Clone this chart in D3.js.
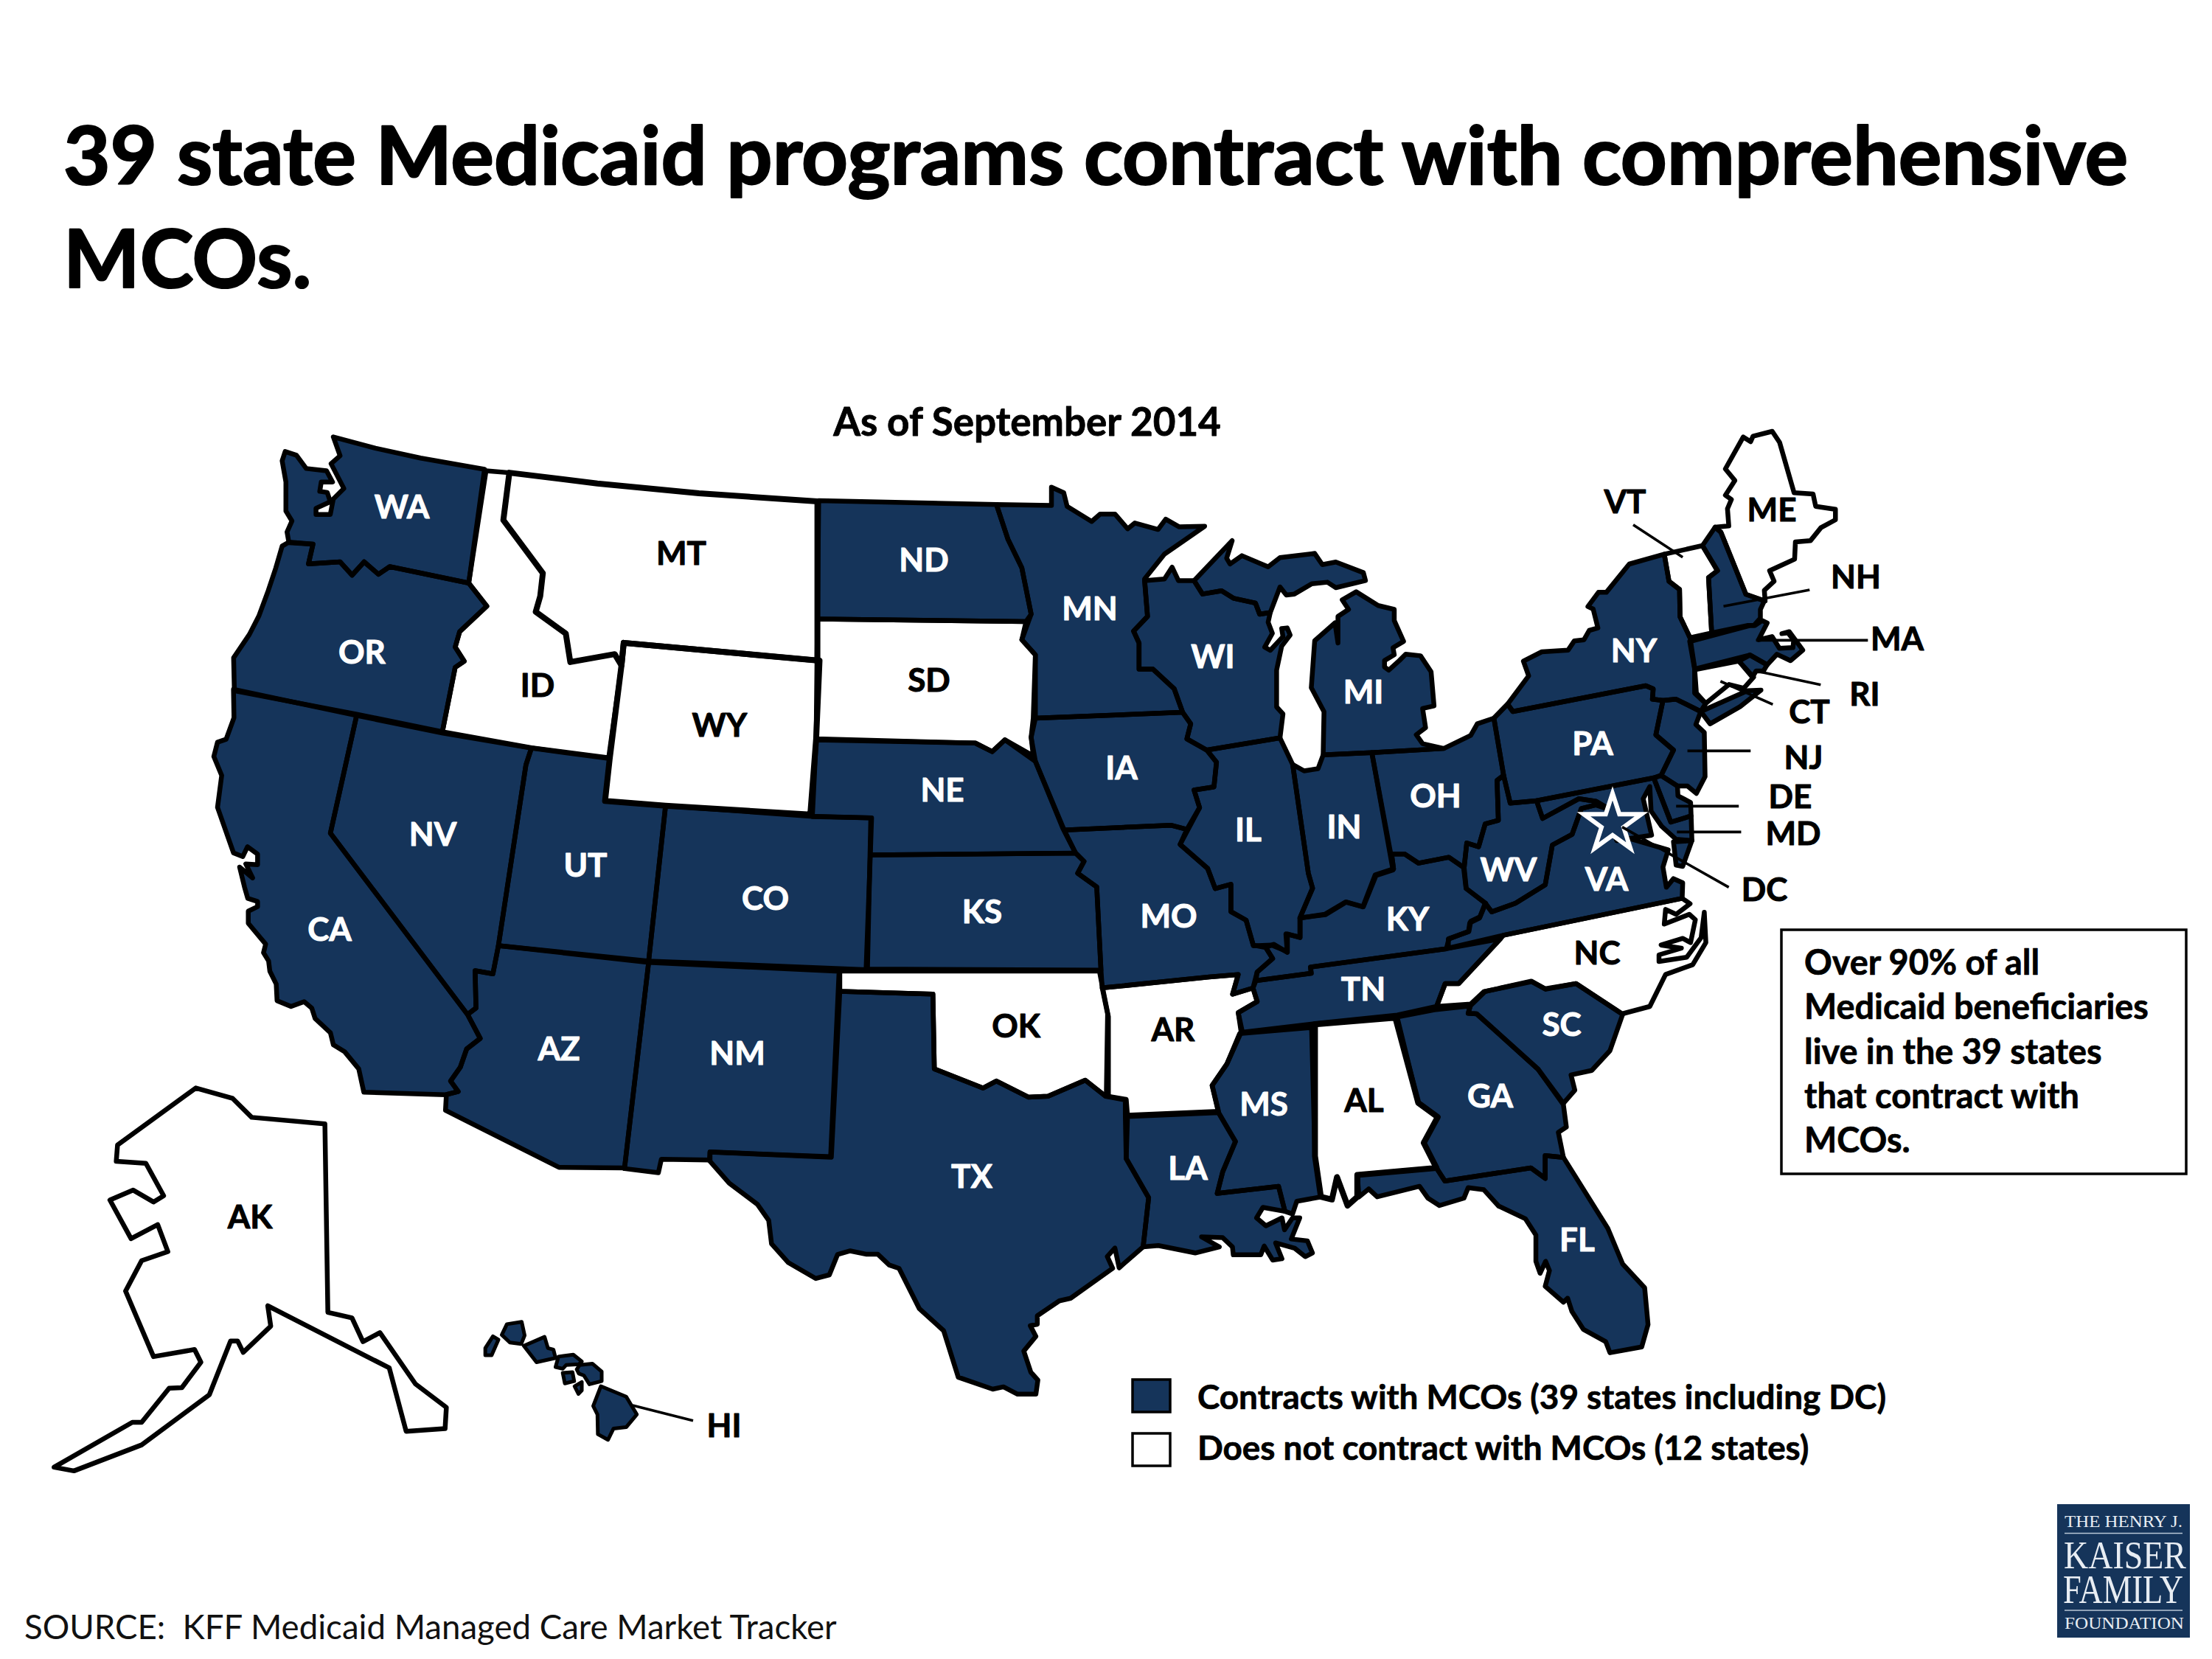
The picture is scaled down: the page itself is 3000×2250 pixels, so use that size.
<!DOCTYPE html>
<html><head><meta charset="utf-8">
<script src="https://cdn.jsdelivr.net/npm/d3@7/dist/d3.min.js"></script>
<style>html,body{margin:0;padding:0;background:#fff}svg{display:block}text{font-family:Lato,"Open Sans",sans-serif}</style>
</head><body><svg id="chart" width="3000" height="2250" viewBox="0 0 3000 2250"></svg>
<script>
const NAVY="#15345a";
const sheet=(x0,y0,w,h,dw,dh)=>{const sx=d3.scaleLinear().domain([0,dw]).range([x0,x0+w]),sy=d3.scaleLinear().domain([0,dh]).range([y0,y0+h]);return pts=>pts.map(p=>[sx(p[0]),sy(p[1])]);};
const z1=sheet(300,560,800,600,1568,1568),z2=sheet(300,940,900,680,1568,1568),z3=sheet(1100,640,900,680,1568,1568),
z4=sheet(1950,570,560,420,1568,1260),z5=sheet(1950,960,560,420,1568,1260),z6=sheet(1400,1300,900,560,1568,1568),
z7=sheet(40,1440,900,600,1568,1568),z9=sheet(270,930,300,300,900,900),z10=sheet(940,1310,600,600,1568,1568),
z11=sheet(1640,1130,420,420,1260,1260),z12=sheet(2250,830,240,240,720,720);

const WA=z1([[298,85],[410,125],[530,160],[700,200],[658,603],[448,545],[418,572],[380,528],[348,575],[316,528],[232,535],[244,465],[180,460],[175,422],[188,383],[172,348],[172,245],[162,170],[170,137],[200,150],[226,197],[280,205],[296,245],[266,245],[262,278],[282,282],[290,315],[252,338],[252,360],[290,360],[298,305],[326,268],[292,180],[316,152]]);
const OR=z1([[162,472],[180,458],[244,465],[232,535],[316,528],[348,575],[380,528],[418,572],[448,545],[658,603],[706,685],[634,775],[622,830],[646,880],[622,902],[588,1130],[360,1068],[35,985],[33,868],[75,785],[100,720],[125,630],[145,550]]);
const ID=z1([[704,205],[766,212],[750,380],[855,568],[848,650],[836,705],[916,782],[928,883],[1046,855],[1064,895],[1030,1222],[825,1187],[588,1130],[622,902],[646,880],[622,830],[634,775],[706,685],[658,603]]);
const MT=[...z1([[766,212],[1000,250],[1270,285]]),...z3([[15,92],[15,590]]),...z1([[1070,815],[1064,895],[1046,855],[928,883],[916,782],[836,705],[848,650],[855,568],[750,380]])];
const WY=[...z1([[1070,815]]),...z3([[20,590],[12,835]]),...z2([[1392,380],[1050,352],[907,337],[918,205]]),...z1([[1064,895]])];
const UT=z2([[733,172],[918,205],[907,337],[1050,352],[1010,838],[655,790],[720,225]]);
const NV=z2([[320,70],[524,125],[733,172],[720,225],[655,790],[642,878],[600,868],[602,985],[582,1005],[258,438]]);
const CA=[...z9([[140,15]]),...z2([[320,70],[258,438],[582,1005],[612,1080],[580,1113],[565,1170],[542,1213],[560,1246],[530,1256],[337,1248],[325,1175],[292,1122],[265,1100],[258,1062],[222,1018],[214,985],[196,965],[165,980],[132,962],[130,910],[115,870],[112,838],[100,812],[105,785],[64,720],[64,682],[86,668]]),...z9([[238,878],[198,865],[185,820],[165,738],[218,782],[190,725],[238,728],[238,685],[197,655],[178,695],[140,680],[75,495],[92,365],[60,288],[75,230],[110,218],[142,130]])];
const AZ=z2([[655,790],[1010,842],[953,1485],[798,1483],[530,1305],[532,1256],[560,1246],[542,1213],[565,1170],[580,1113],[612,1080],[582,1005],[602,985],[600,868],[642,878]]);
const NM=z2([[1010,842],[1460,870],[1440,1450],[1155,1435],[1155,1460],[1040,1458],[1033,1500],[953,1487]]);
const CO=z2([[1050,352],[1392,385],[1535,390],[1527,865],[1010,838]]);
const TX=[...z10([[520,90],[850,100],[855,365],[1028,433],[1075,408],[1188,465],[1258,462],[1390,405],[1462,462],[1532,475],[1532,530]]),...z6([[222,760],[275,908],[262,1095]]),...z10([[1510,1070],[1495,1000],[1468,1030],[1487,1072],[1338,1178],[1298,1187],[1220,1240],[1220,1270],[1195,1275],[1215,1313],[1172,1365],[1197,1440],[1222,1468],[1215,1518],[1150,1518],[1100,1492],[1062,1500],[940,1458],[888,1293],[802,1215],[730,1072],[695,1060],[655,1022],[615,1022],[557,1010],[512,1023],[483,1095],[435,1108],[338,1052],[278,985],[268,902],[228,845],[128,770],[58,690],[60,660],[490,678]])];
const OK=z10([[520,18],[1440,18],[1450,70],[1472,180],[1472,462],[1462,462],[1390,405],[1258,462],[1188,465],[1075,408],[1028,433],[855,365],[850,100],[520,90]]);
const KS=z3([[140,1198],[625,1192],[645,1218],[630,1255],[675,1298],[685,1558],[130,1555]]);
const NE=z3([[12,838],[388,848],[428,875],[458,838],[530,905],[595,1115],[625,1192],[140,1198],[143,1082],[3,1078]]);
const ND=z3([[18,90],[438,102],[465,210],[498,300],[520,445],[508,468],[15,460]]);
const SD=z3([[15,460],[508,468],[498,525],[530,572],[525,770],[520,830],[525,888],[458,838],[428,875],[388,848],[12,835]]);
const MN=z3([[438,102],[568,105],[568,48],[597,65],[605,108],[663,155],[683,132],[718,132],[748,178],[765,160],[820,180],[838,148],[870,172],[930,170],[835,257],[788,335],[795,452],[762,498],[775,535],[775,617],[808,617],[858,678],[878,752],[530,770],[530,572],[498,525],[520,445],[498,300],[465,210]]);
const IA=z3([[530,770],[878,752],[897,788],[888,835],[935,870],[958,908],[952,985],[905,995],[918,1050],[888,1118],[850,1105],[598,1120],[530,905],[520,830]]);
const MO=[...z3([[598,1120],[850,1105],[888,1118],[872,1165],[937,1240],[955,1303],[992,1290],[992,1375],[1028,1402],[1045,1480]]),...z11([[230,465],[258,510],[195,565],[178,630],[95,655],[118,575],[0,585]]),...z10([[1450,78]]),...z3([[685,1558],[675,1298],[630,1255],[645,1218],[625,1192]])];
const AR=[...z10([[1450,78]]),...z11([[0,585],[118,575],[95,655],[178,630],[195,685],[118,730],[130,810]]),...z6([[460,400],[425,482],[440,580],[225,595],[222,535],[175,522],[178,210]])];
const LA=z6([[225,600],[440,585],[480,695],[450,810],[437,892],[582,865],[597,960],[545,945],[530,985],[552,1015],[590,985],[596,1030],[615,985],[632,985],[612,1065],[650,1072],[662,1118],[645,1132],[620,1100],[575,1080],[590,1140],[568,1145],[548,1092],[540,1125],[475,1125],[473,1095],[450,1060],[400,1057],[442,1095],[385,1118],[298,1090],[262,1095],[275,908],[222,760]]);
const MS=z6([[490,285],[660,262],[668,750],[682,905],[625,922],[615,970],[597,960],[582,865],[437,892],[450,810],[480,695],[440,585],[425,482],[460,400]]);
const AL=z6([[668,250],[858,225],[912,548],[958,602],[925,700],[955,795],[768,822],[768,905],[745,938],[720,830],[708,915],[682,905],[668,750]]);
const GA=z6([[862,222],[950,195],[1035,180],[1030,208],[1050,210],[1195,420],[1255,555],[1262,640],[1243,660],[1255,755],[1212,748],[1212,835],[1178,795],[975,845],[955,795],[925,700],[958,602],[912,548]]);
const SC=z6([[1035,180],[1070,125],[1180,88],[1212,115],[1285,95],[1395,212],[1365,350],[1322,425],[1273,442],[1282,500],[1255,550],[1195,420],[1050,210],[1030,208]]);
const FL=z6([[768,822],[955,795],[975,845],[1178,795],[1212,835],[1212,748],[1255,755],[1360,1025],[1395,1160],[1447,1250],[1455,1390],[1440,1475],[1365,1497],[1355,1455],[1302,1408],[1275,1340],[1265,1290],[1255,1305],[1212,1245],[1222,1185],[1213,1150],[1200,1195],[1190,1150],[1190,1050],[1165,988],[1102,940],[1067,878],[1030,870],[1020,910],[962,938],[935,910],[915,865],[815,905],[795,875],[772,905]]);
const TN=z11([[190,600],[415,570],[412,545],[965,470],[1185,430],[1015,612],[960,612],[925,705],[765,740],[430,775],[135,810],[118,730],[195,685],[178,630]]);
const KY=z11([[370,345],[470,330],[555,280],[625,300],[675,170],[750,145],[742,85],[795,85],[852,122],[975,98],[1035,140],[1045,225],[1125,285],[1100,345],[1060,365],[1055,400],[975,430],[965,470],[412,545],[415,570],[190,600],[195,565],[258,510],[230,465],[262,452],[318,485],[318,410],[370,425]]);
const IL=z3([[935,870],[1108,832],[1138,915],[1175,1255],[1185,1302],[1155,1395],[1155,1455],[1122,1445],[1125,1500],[1088,1480],[1045,1482],[1028,1402],[992,1375],[992,1290],[955,1303],[937,1240],[872,1165],[918,1050],[905,995],[952,985],[958,908]]);
const IN=z3([[1138,915],[1165,935],[1198,928],[1210,885],[1325,878],[1375,1245],[1335,1262],[1305,1360],[1265,1345],[1215,1385],[1155,1395],[1185,1302],[1175,1255]]);
const OH=[...z3([[1325,878],[1495,865]]),...z5([[125,112],[150,65],[213,42],[250,275],[225,295],[230,458],[180,472],[155,565],[110,550],[100,650]]),...z11([[975,98],[852,122],[795,85],[742,85],[750,145]])];
const MI_LOWER=z3([[1210,885],[1212,750],[1182,675],[1190,528],[1238,472],[1245,535],[1245,452],[1270,430],[1255,400],[1288,375],[1340,418],[1378,430],[1378,465],[1400,530],[1375,550],[1378,572],[1355,590],[1355,610],[1365,620],[1390,590],[1405,570],[1440,575],[1465,625],[1472,732],[1445,740],[1452,800],[1430,822],[1445,850],[1495,865],[1325,878]]);
const MI_UPPER=z3([[905,340],[995,215],[982,270],[990,288],[1018,262],[1080,297],[1108,268],[1190,255],[1208,290],[1240,282],[1305,315],[1310,340],[1240,362],[1220,345],[1183,350],[1142,382],[1123,385],[1108,360],[1085,440],[1060,445],[1050,410],[998,395],[970,372],[925,382]]);
const WI=z3([[788,340],[835,335],[853,298],[868,340],[905,340],[925,382],[970,372],[998,395],[1050,410],[1060,445],[1085,440],[1080,470],[1090,505],[1072,548],[1085,558],[1115,515],[1112,490],[1125,488],[1132,510],[1112,545],[1100,620],[1100,735],[1115,757],[1108,832],[935,870],[888,835],[897,788],[878,752],[858,678],[808,617],[775,617],[775,535],[762,498],[795,452]]);
const PA=[...z5([[213,42]]),...z4([[265,1155],[285,1185],[790,1080],[818,1093],[815,1135],[855,1140]]),...z5([[828,110],[895,172],[848,275],[820,285],[375,378],[275,388],[250,275]])];
const NY=[...z4([[215,1210],[265,1155],[345,1040],[325,980],[395,942],[495,935],[518,898],[555,893],[575,855],[608,845],[590,768],[570,758],[610,700],[640,700],[727,585],[860,545],[878,655],[918,688],[920,800],[958,885],[975,1005],[982,1110]]),...z12([[190,372],[170,405],[360,320],[415,318],[330,385],[208,455],[170,405]]),...z4([[905,1135],[855,1140],[815,1135],[818,1093],[790,1080],[285,1185],[265,1155]])];
const CT=z12([[145,235],[325,200],[385,265],[345,310],[285,295],[190,372],[145,330]]);
const RI=z12([[325,200],[370,175],[440,215],[425,240],[395,240],[380,265]]);
const MA=z12([[125,120],[370,55],[390,55],[420,35],[440,45],[405,113],[460,100],[490,148],[545,145],[548,115],[525,85],[500,88],[530,80],[585,155],[535,198],[480,172],[440,215],[370,175],[145,232]]);
const NJ=[...z4([[855,1140],[905,1135]]),...z12([[170,405]]),...z5([[980,68],[1012,100],[1015,280],[982,348],[948,318],[910,318],[848,275],[895,172],[828,110]])];
const DE=z5([[820,285],[848,275],[910,318],[912,358],[960,385],[962,440],[885,465]]);
const MD=z5([[375,378],[820,285],[885,465],[962,440],[965,540],[905,535],[850,482],[810,420],[805,320],[780,370],[812,518],[680,540],[640,405],[600,380],[535,370],[398,450]]);
const WV=z5([[250,275],[275,388],[375,378],[398,450],[535,370],[600,380],[640,405],[600,395],[545,410],[510,515],[435,558],[408,720],[295,795],[205,830],[180,795],[108,735],[100,650],[110,550],[155,565],[180,472],[230,458],[225,295]]);
const VA_MAIN=z5([[205,830],[295,795],[408,720],[435,558],[510,515],[545,410],[600,395],[640,410],[680,540],[730,532],[875,578],[855,648],[868,730],[895,695],[930,712],[928,775],[250,925],[40,978],[40,940],[118,910],[125,868],[160,850],[180,795]]);
const VA_SHORE=z5([[895,545],[965,540],[930,645],[905,640]]);
const NH=z4([[1005,510],[1053,435],[1075,455],[1170,708],[1240,735],[1225,770],[1225,805],[1200,835],[1175,835],[1040,865],[1028,640],[1062,612]]);
const VT=z4([[860,545],[1005,510],[1062,612],[1028,640],[1040,865],[958,885],[920,800],[918,688],[878,655]]);
const ME=z4([[1053,435],[1105,430],[1100,360],[1115,322],[1092,305],[1128,245],[1092,198],[1160,68],[1188,87],[1197,65],[1270,45],[1298,90],[1353,295],[1425,300],[1435,350],[1510,362],[1510,405],[1455,437],[1415,490],[1358,495],[1355,565],[1260,612],[1277,655],[1240,692],[1243,735],[1170,708],[1075,455]]);
const NC=[...z5([[250,925],[928,775],[958,797],[905,840],[865,820],[860,880],[955,840],[978,862],[960,955],[930,938],[848,965],[925,978],[840,1005],[840,1032],[945,1015],[1000,935],[1012,832],[1018,955],[968,1045],[865,1085],[805,1215],[700,1245],[525,1122],[410,1145],[355,1112],[175,1155],[125,1205]]),...z11([[925,705],[960,612],[1015,612]])];
const AK=z7([[393,93],[480,130],[525,197],[698,220],[705,888],[762,908],[788,992],[828,960],[912,1142],[985,1225],[982,1300],[890,1310],[850,1085],[563,865],[570,937],[505,1030],[492,990],[475,990],[425,1180],[265,1358],[105,1450],[58,1437],[243,1278],[265,1278],[330,1157],[360,1155],[405,1065],[390,1020],[293,1045],[227,813],[265,705],[327,673],[303,577],[240,627],[190,490],[245,455],[293,497],[317,475],[275,360],[205,353],[208,295]]);
const HI_ISLANDS=[
 z7([[1095,973],[1108,985],[1092,1040],[1077,1040],[1077,1015]]),
 z7([[1128,930],[1163,922],[1170,970],[1162,1000],[1135,995],[1116,968]]),
 z7([[1168,1007],[1217,975],[1225,1015],[1238,1020],[1243,1050],[1198,1065]]),
 z7([[1250,1045],[1285,1038],[1305,1062],[1298,1072],[1268,1075],[1260,1088],[1243,1082]]),
 z7([[1300,1075],[1330,1070],[1352,1098],[1352,1132],[1323,1143],[1310,1112],[1298,1105],[1293,1090]]),
 z7([[1260,1103],[1283,1100],[1287,1132],[1265,1140]]),
 z7([[1288,1150],[1305,1135],[1305,1165],[1297,1177]]),
 z7([[1350,1150],[1410,1187],[1435,1250],[1410,1295],[1380,1300],[1367,1340],[1343,1320],[1342,1250],[1332,1220]])];

const noContract=[["MT",MT],["ID",ID],["WY",WY],["SD",SD],["OK",OK],["AR",AR],["AL",AL],["NC",NC],["VT",VT],["ME",ME],["CT",CT],["AK",AK]];
const contract=[["WA",WA],["OR",OR],["CA",CA],["NV",NV],["UT",UT],["AZ",AZ],["CO",CO],["NM",NM],["ND",ND],["NE",NE],["KS",KS],["TX",TX],["MN",MN],["IA",IA],["MO",MO],["LA",LA],["WI",WI],["IL",IL],["MS",MS],["MI",MI_LOWER,MI_UPPER],["IN",IN],["KY",KY],["TN",TN],["OH",OH],["GA",GA],["FL",FL],["SC",SC],["WV",WV],["VA",VA_MAIN,VA_SHORE],["PA",PA],["NY",NY],["NJ",NJ],["DE",DE],["MD",MD],["NH",NH],["MA",MA],["RI",RI],["HI",...HI_ISLANDS]];

const labelNames=["WA","OR","MT","ID","WY","NV","UT","CO","CA","AZ","NM","ND","SD","NE","KS","IA","MO","MN","WI","IL","IN","MI","OH","KY","TN","MS","AL","GA","SC","FL","LA","AR","OK","TX","NY","PA","WV","VA","NC","AK","VT","ME","NH","MA","RI","CT","NJ","DE","MD","DC","HI"];
const labelX=[545,491,924,729,976,587,794,1038,447,758,1000,1253,1260,1278,1332,1521,1585,1478,1645,1693,1823,1849,1947,1909,1849,1714,1850,2021,2118,2139,1611,1591,1378,1318,2216,2160,2046,2179,2166,339,2204,2403,2517,2573,2529,2454,2446,2428,2432,2393,982];
const labelY=[703,900,766,945,999,1147,1189,1234,1276,1438,1444,775,938,1087,1252,1057,1258,841,906,1141,1137,954,1095,1262,1357,1513,1508,1502,1405,1697,1600,1412,1407,1611,898,1024,1195,1208,1308,1666,696,707,798,882,957,981,1043,1096,1146,1222,1949];
const whiteLabels=["WA","OR","NV","UT","CO","CA","AZ","NM","ND","NE","KS","IA","MO","MN","WI","IL","IN","MI","OH","KY","TN","MS","GA","SC","FL","LA","TX","NY","PA","WV","VA"];

const leaders=[z4([[742,425],[930,557]]),z4([[1085,757],[1412,690]]),z12([[395,115],[850,115]]),z12([[395,240],[658,296]]),z12([[250,282],[463,376]]),z5([[948,175],[1188,175]]),z5([[905,400],[1143,400]]),z5([[908,505],[1152,505]]),z5([[700,485],[1105,730]]),z7([[1425,1218],[1568,1272]])];

const titleLines=["39 state Medicaid programs contract with comprehensive","MCOs."];
const subtitle="As of September 2014";
const noteLines=["Over 90% of all","Medicaid beneficiaries","live in the 39 states","that contract with","MCOs."];
const legendLabels=["Contracts with MCOs (39 states including DC)","Does not contract with MCOs (12 states)"];
const source="SOURCE:  KFF Medicaid Managed Care Market Tracker";
const logoLines=["THE HENRY J.","KAISER","FAMILY","FOUNDATION"];

const svg=d3.select("#chart");
const path=d3.geoPath(d3.geoIdentity());
const feat=(row,fill)=>({type:"Feature",properties:{name:row[0],fill},geometry:{type:"MultiPolygon",coordinates:row.slice(1).map(r=>[[...r,r[0]]])}});
const features=[...noContract.map(r=>feat(r,"#fff")),...contract.map(r=>feat(r,NAVY))];
const heavyBorders=["MT","WY","AL"];

svg.append("rect").attr("width",3000).attr("height",2250).attr("fill","#fff");
svg.append("g").selectAll("path").data(features).join("path").attr("d",path).attr("fill",d=>d.properties.fill);
svg.append("g").selectAll("path").data(features).join("path").attr("d",path).attr("fill","none").attr("stroke","#000").attr("stroke-linejoin","round")
  .attr("stroke-width",d=>d.properties.name==="HI"?5:heavyBorders.includes(d.properties.name)?8:6.5);

// DC star
svg.append("path").attr("d",d3.symbol(d3.symbolStar).size(1900)()).attr("transform","translate(2187,1117)").attr("fill",NAVY).attr("stroke","#fff").attr("stroke-width",6);

const line=d3.line();
svg.append("g").selectAll("path").data(leaders).join("path").attr("d",line).attr("stroke","#000").attr("stroke-width",3.6).attr("fill","none");

const bold=(sel,w)=>sel.attr("font-weight",700).attr("stroke-width",w).attr("paint-order","stroke").attr("stroke-linejoin","round");

bold(svg.append("g").selectAll("text").data(labelNames).join("text").text(d=>d)
 .attr("x",(d,i)=>labelX[i]).attr("y",(d,i)=>labelY[i]).attr("text-anchor","middle")
 .attr("font-size",44).attr("fill",d=>whiteLabels.includes(d)?"#fff":"#000").attr("stroke",d=>whiteLabels.includes(d)?"#fff":"#000"),1);

bold(svg.append("g").selectAll("text").data(titleLines).join("text").text(d=>d).attr("x",86).attr("y",(d,i)=>250+i*140)
 .attr("font-size",109.7).attr("fill","#000").attr("stroke","#000"),2.2);
bold(svg.append("text").text(subtitle).attr("x",1393).attr("y",591).attr("text-anchor","middle").attr("font-size",53).attr("stroke","#000"),.8);

svg.append("rect").attr("x",2416).attr("y",1261).attr("width",549).attr("height",331).attr("fill","#fff").attr("stroke","#000").attr("stroke-width",3.5);
bold(svg.append("g").selectAll("text").data(noteLines).join("text").text(d=>d).attr("x",2447).attr("y",(d,i)=>1322+i*60.3)
 .attr("font-size",46.8).attr("stroke","#000"),.7);

const legendFill=[NAVY,"#fff"],legendY=[1871,1944];
const lg=svg.append("g");
lg.selectAll("rect").data(legendFill).join("rect").attr("x",1536).attr("y",(d,i)=>legendY[i]).attr("width",51).attr("height",44).attr("fill",d=>d).attr("stroke","#000").attr("stroke-width",3.5);
bold(lg.selectAll("text").data(legendLabels).join("text").text(d=>d).attr("x",1624).attr("y",(d,i)=>legendY[i]+(i?36:40)).attr("font-size",45.8).attr("stroke","#000"),.7);

svg.append("text").text(source).attr("x",33).attr("y",2223).attr("font-size",45.6).attr("fill","#111").attr("xml:space","preserve").style("white-space","pre");

// Logo
const logo=svg.append("g");
logo.append("rect").attr("x",2790).attr("y",2040).attr("width",180).attr("height",181).attr("fill",NAVY);
const logoY=[2071,2127,2174,2209],logoS=[24,53,54,23],logoX=[2800,2799,2798,2800],logoW=[160,166,163,162];
logo.selectAll("text").data(logoLines).join("text").text(d=>d).style("font-family","'Liberation Serif',serif")
 .attr("x",(d,i)=>logoX[i]).attr("y",(d,i)=>logoY[i]).attr("font-size",(d,i)=>logoS[i]).attr("fill","#e8edf3")
 .attr("textLength",(d,i)=>logoW[i]).attr("lengthAdjust","spacingAndGlyphs");
const ruleY=[2079.5,2184];
logo.selectAll("line").data(ruleY).join("line").attr("x1",2800).attr("x2",2960).attr("y1",d=>d).attr("y2",d=>d).attr("stroke","#b9c6d6").attr("stroke-width",1.6);
</script></body></html>
